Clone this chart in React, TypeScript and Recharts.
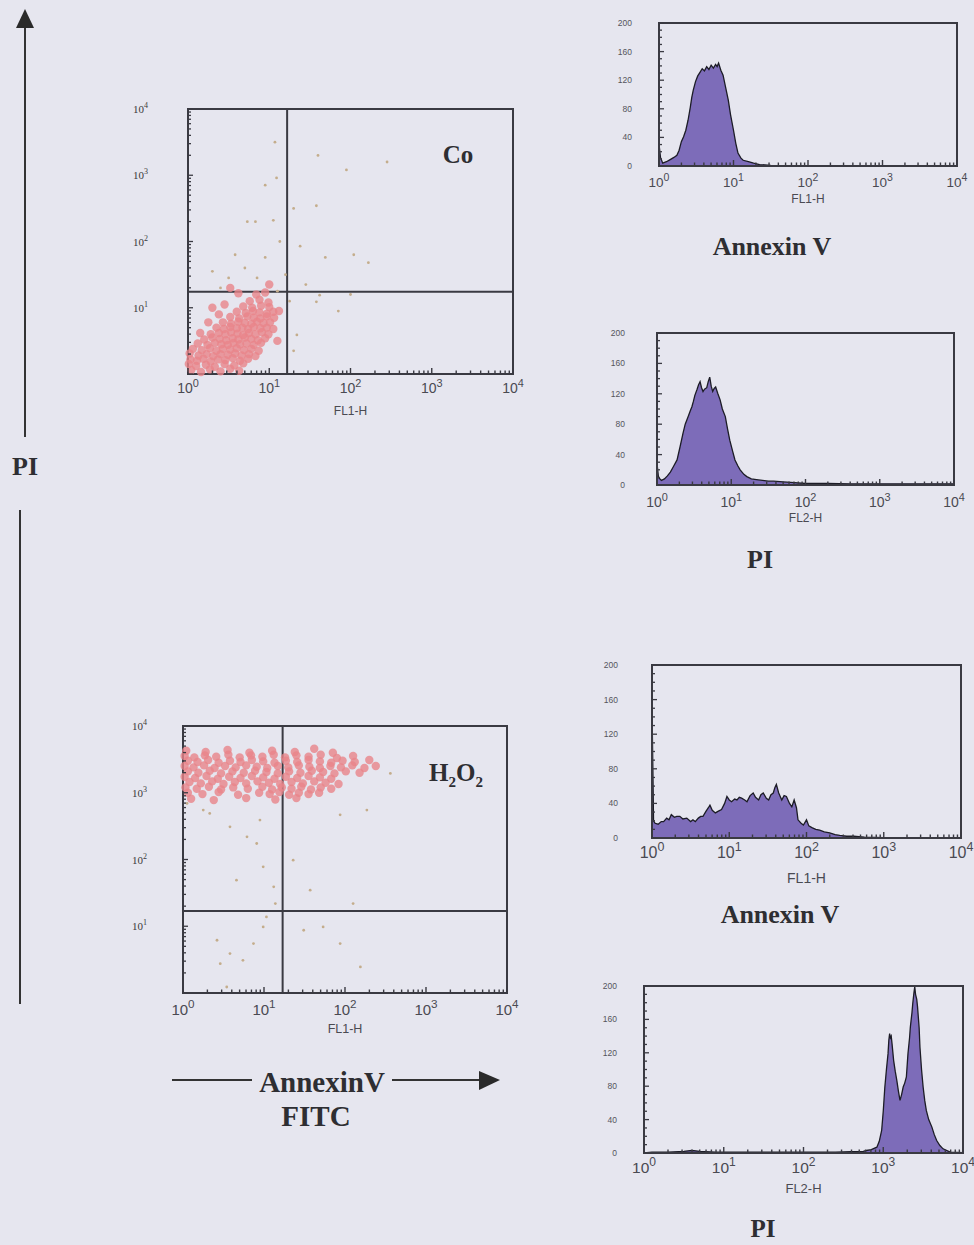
import React from "react";
import {
  AreaChart,
  Area,
  ScatterChart,
  Scatter,
  XAxis,
  YAxis,
  ReferenceLine,
  ReferenceArea,
} from "recharts";

// log axes: values are in decades (0 = 10^0 ... 4 = 10^4)
const decades = [0, 1, 2, 3, 4];
const decadeLabels = ["0", "1", "2", "3", "4"];
const minorSteps = [2, 3, 4, 5, 6, 7, 8, 9];
const logTicks = [0, 1, 2, 3]
  .flatMap((d) => [d, ...minorSteps.map((k) => d + Math.log10(k))])
  .concat(4);
const countTicks = [0, 10, 20, 30, 40, 50, 60, 70, 80, 90, 100, 110, 120, 130, 140, 150, 160, 170, 180, 190, 200];
const countLabels = [0, 40, 80, 120, 160, 200];

// histograms: [log10 fluorescence, events]
const annexinControl = [
  [0, 0], [0.005, 26], [0.02, 12], [0.05, 4], [0.1, 6], [0.15, 9], [0.2, 12], [0.24, 15],
  [0.27, 22], [0.3, 34], [0.33, 41], [0.36, 50], [0.39, 64], [0.42, 82], [0.44, 96],
  [0.46, 106], [0.49, 118], [0.52, 126], [0.55, 131], [0.58, 136], [0.61, 133], [0.64, 139],
  [0.67, 135], [0.7, 141], [0.73, 137], [0.76, 142], [0.78, 139], [0.8, 144], [0.83, 134],
  [0.86, 127], [0.89, 112], [0.93, 92], [0.96, 72], [1.0, 50], [1.03, 32], [1.06, 18],
  [1.1, 11], [1.13, 8], [1.2, 6], [1.27, 4], [1.35, 2], [1.5, 1], [2, 0.5], [3, 0.5], [4, 0.5],
];

const piControl = [
  [0, 0], [0.005, 24], [0.02, 10], [0.06, 6], [0.1, 8], [0.14, 12], [0.18, 17], [0.22, 24],
  [0.27, 33], [0.31, 50], [0.35, 68], [0.38, 80], [0.42, 90], [0.45, 98], [0.47, 103],
  [0.49, 110], [0.51, 118], [0.54, 126], [0.56, 132], [0.58, 136], [0.6, 128], [0.62, 123],
  [0.64, 126], [0.67, 128], [0.69, 136], [0.71, 142], [0.73, 130], [0.75, 123], [0.77, 127],
  [0.79, 129], [0.82, 120], [0.85, 112], [0.88, 100], [0.92, 90], [0.95, 74], [0.98, 59],
  [1.02, 44], [1.05, 33], [1.09, 25], [1.12, 20], [1.17, 14], [1.21, 11], [1.27, 8],
  [1.34, 7], [1.42, 6], [1.5, 5], [1.57, 5], [1.7, 4], [1.85, 3], [2.0, 2], [2.3, 2],
  [2.6, 1.5], [3.0, 1.5], [3.4, 1.5], [3.8, 1.5], [4, 1.5],
];

const annexinH2O2 = [
  [0, 0], [0.003, 131], [0.012, 75], [0.02, 20], [0.04, 17], [0.08, 16], [0.12, 19],
  [0.15, 19], [0.19, 23], [0.22, 21], [0.25, 27], [0.29, 24], [0.32, 25], [0.36, 25],
  [0.4, 22], [0.45, 23], [0.5, 19], [0.53, 21], [0.56, 19], [0.6, 23], [0.63, 25],
  [0.66, 25], [0.7, 31], [0.73, 35], [0.75, 38], [0.78, 32], [0.82, 29], [0.86, 31],
  [0.9, 33], [0.94, 40], [0.97, 48], [1.0, 44], [1.03, 42], [1.07, 45], [1.1, 44],
  [1.13, 47], [1.16, 46], [1.2, 44], [1.23, 42], [1.27, 49], [1.31, 52], [1.34, 47],
  [1.38, 44], [1.41, 50], [1.44, 52], [1.48, 46], [1.51, 44], [1.54, 50], [1.57, 52],
  [1.59, 58], [1.61, 62], [1.64, 52], [1.68, 44], [1.71, 49], [1.74, 48], [1.78, 40],
  [1.81, 36], [1.84, 44], [1.87, 35], [1.89, 21], [1.93, 17], [1.96, 15], [2.0, 21],
  [2.03, 14], [2.07, 12], [2.12, 10], [2.17, 9], [2.23, 7], [2.3, 6], [2.37, 4], [2.43, 3],
  [2.52, 2], [2.61, 2], [2.75, 1], [3.0, 0.5], [4, 0.5],
];

const piH2O2 = [
  [0, 0], [0.1, 1], [0.3, 1], [0.5, 2], [0.6, 3], [0.7, 2], [0.9, 1], [1.2, 1], [1.6, 1],
  [2.0, 1], [2.4, 1], [2.6, 1.5], [2.75, 2], [2.79, 3], [2.85, 4], [2.92, 7], [2.95, 14],
  [2.98, 27], [3.0, 50], [3.02, 79], [3.04, 100], [3.06, 119], [3.07, 135], [3.08, 143],
  [3.09, 138], [3.1, 140], [3.11, 131], [3.13, 111], [3.15, 98], [3.17, 87], [3.19, 74],
  [3.21, 63], [3.23, 70], [3.25, 79], [3.27, 84], [3.29, 91], [3.31, 119], [3.33, 138],
  [3.34, 151], [3.36, 168], [3.37, 179], [3.385, 192], [3.395, 199], [3.405, 190],
  [3.42, 184], [3.43, 175], [3.45, 150], [3.46, 127], [3.48, 100], [3.5, 79], [3.52, 63],
  [3.54, 51], [3.57, 40], [3.61, 31], [3.64, 22], [3.67, 15], [3.71, 9], [3.75, 5],
  [3.84, 1], [4, 0.5],
];

// dot plots: [log10 FL1 (Annexin V), log10 FL2 (PI)]
const controlCells = [
  [0.04, 0.06], [0.16, 0.03], [0.27, 0.07], [0.4, 0.04], [0.52, 0.08], [0.63, 0.05],
  [0.01, 0.15], [0.1, 0.12], [0.22, 0.14], [0.33, 0.11], [0.45, 0.15], [0.57, 0.13], [0.68, 0.16],
  [0.03, 0.22], [0.11, 0.2], [0.19, 0.23], [0.28, 0.19], [0.37, 0.22], [0.46, 0.21], [0.55, 0.24],
  [0.64, 0.2], [0.74, 0.23],
  [0.02, 0.31], [0.13, 0.28], [0.23, 0.3], [0.31, 0.27], [0.4, 0.3], [0.49, 0.29], [0.58, 0.31],
  [0.66, 0.28], [0.75, 0.3], [0.83, 0.27],
  [0.06, 0.38], [0.17, 0.36], [0.27, 0.39], [0.35, 0.35], [0.43, 0.38], [0.52, 0.37], [0.6, 0.39],
  [0.69, 0.36], [0.78, 0.38], [0.87, 0.35],
  [0.12, 0.46], [0.24, 0.44], [0.33, 0.47], [0.41, 0.45], [0.49, 0.44], [0.56, 0.47], [0.64, 0.45],
  [0.72, 0.46], [0.81, 0.44], [0.9, 0.47],
  [0.2, 0.52], [0.3, 0.55], [0.39, 0.53], [0.47, 0.51], [0.55, 0.54], [0.62, 0.52], [0.7, 0.55],
  [0.78, 0.53], [0.86, 0.51], [0.95, 0.54],
  [0.28, 0.6], [0.38, 0.62], [0.46, 0.6], [0.53, 0.63], [0.61, 0.61], [0.68, 0.59], [0.75, 0.62],
  [0.83, 0.6], [0.91, 0.63], [0.99, 0.6],
  [0.35, 0.7], [0.44, 0.68], [0.52, 0.71], [0.6, 0.69], [0.67, 0.7], [0.74, 0.68], [0.81, 0.71],
  [0.89, 0.69], [0.97, 0.7], [1.05, 0.68],
  [0.43, 0.78], [0.53, 0.76], [0.62, 0.79], [0.7, 0.77], [0.78, 0.76], [0.85, 0.79], [0.93, 0.77],
  [1.01, 0.78],
  [0.52, 0.86], [0.63, 0.84], [0.73, 0.87], [0.81, 0.85], [0.89, 0.84], [0.97, 0.87], [1.06, 0.85],
  [0.6, 0.94], [0.71, 0.92], [0.8, 0.95], [0.88, 0.93], [0.97, 0.91], [1.05, 0.94],
  [0.68, 1.02], [0.79, 1.0], [0.9, 1.03], [1.0, 1.01],
  [0.76, 1.1], [0.88, 1.12], [0.99, 1.08], [0.84, 1.2], [0.95, 1.23], [0.62, 1.22],
  [0.45, 1.05], [0.38, 0.9], [0.25, 0.78], [0.15, 0.62], [1.1, 0.5], [1.12, 0.95], [0.3, 1.0],
  [0.52, 1.3], [1.0, 1.35],
];

const controlSparse = [
  [1.07, 3.5], [1.6, 3.3], [1.95, 3.08], [2.45, 3.2], [0.95, 2.85], [1.09, 2.96], [1.3, 2.5],
  [1.58, 2.54], [0.73, 2.3], [0.83, 2.3], [1.05, 2.32], [0.58, 1.8], [0.95, 1.76], [1.13, 2.0],
  [1.38, 1.93], [1.69, 1.76], [2.04, 1.8], [2.22, 1.68], [1.62, 1.19], [1.34, 0.59], [1.58, 1.09],
  [0.5, 1.45], [0.7, 1.6], [1.2, 1.5], [0.4, 1.3], [1.45, 1.35], [1.3, 0.35], [1.85, 0.95],
  [1.1, 1.25], [0.85, 1.45], [1.25, 1.1], [2.0, 1.2], [0.3, 1.55],
];

const h2o2Cells = [
  [0.04, 3.63], [0.28, 3.61], [0.55, 3.64], [0.82, 3.6], [1.1, 3.63], [1.38, 3.61], [1.62, 3.66], [1.85, 3.6],
  [0.02, 3.55], [0.14, 3.53], [0.27, 3.56], [0.41, 3.54], [0.56, 3.57], [0.7, 3.53], [0.84, 3.56],
  [0.98, 3.54], [1.12, 3.57], [1.26, 3.53], [1.4, 3.56], [1.55, 3.54], [1.7, 3.57], [1.9, 3.52], [2.1, 3.55],
  [0.06, 3.48], [0.18, 3.46], [0.31, 3.49], [0.44, 3.45], [0.58, 3.48], [0.71, 3.46], [0.85, 3.49],
  [0.99, 3.47], [1.13, 3.45], [1.27, 3.48], [1.41, 3.46], [1.55, 3.49], [1.69, 3.47], [1.83, 3.45],
  [1.97, 3.48], [2.12, 3.46], [2.3, 3.49],
  [0.02, 3.4], [0.13, 3.38], [0.26, 3.41], [0.39, 3.37], [0.52, 3.4], [0.65, 3.38], [0.78, 3.41],
  [0.91, 3.39], [1.04, 3.37], [1.17, 3.4], [1.3, 3.38], [1.43, 3.41], [1.56, 3.39], [1.69, 3.37],
  [1.82, 3.4], [1.95, 3.38], [2.09, 3.41], [2.24, 3.37], [2.38, 3.4],
  [0.06, 3.32], [0.19, 3.3], [0.33, 3.33], [0.47, 3.29], [0.61, 3.32], [0.75, 3.3], [0.89, 3.33],
  [1.03, 3.31], [1.17, 3.29], [1.31, 3.32], [1.45, 3.3], [1.59, 3.33], [1.73, 3.31], [1.87, 3.29],
  [2.01, 3.32], [2.18, 3.3],
  [0.02, 3.24], [0.15, 3.22], [0.29, 3.25], [0.43, 3.21], [0.57, 3.24], [0.71, 3.22], [0.85, 3.25],
  [0.99, 3.23], [1.13, 3.21], [1.27, 3.24], [1.41, 3.22], [1.55, 3.25], [1.69, 3.23], [1.83, 3.21],
  [0.08, 3.16], [0.22, 3.14], [0.36, 3.17], [0.5, 3.13], [0.64, 3.16], [0.78, 3.14], [0.92, 3.17],
  [1.06, 3.15], [1.2, 3.13], [1.34, 3.16], [1.48, 3.14], [1.62, 3.17], [1.76, 3.15], [1.92, 3.13],
  [0.03, 3.08], [0.17, 3.06], [0.32, 3.09], [0.47, 3.05], [0.62, 3.08], [0.8, 3.06], [0.98, 3.09],
  [1.1, 3.05], [1.22, 3.08], [1.34, 3.06], [1.46, 3.09], [1.58, 3.05], [1.7, 3.08], [1.83, 3.06],
  [0.06, 3.0], [0.24, 2.98], [0.44, 3.01], [0.68, 2.97], [0.94, 3.0], [1.07, 2.98], [1.19, 3.01],
  [1.31, 2.97], [1.43, 3.0], [1.55, 2.98], [1.68, 3.0],
  [0.1, 2.91], [0.38, 2.89], [0.78, 2.92], [1.14, 2.9], [1.4, 2.92],
];

const h2o2Sparse = [
  [0.33, 2.69], [0.58, 2.49], [0.79, 2.34], [0.95, 2.59], [0.91, 2.24], [0.99, 1.89], [1.12, 1.59],
  [0.66, 1.69], [1.14, 1.34], [1.36, 1.99], [1.94, 2.67], [1.57, 1.54], [2.1, 1.34], [1.49, 0.94],
  [1.73, 0.99], [1.94, 0.74], [2.19, 0.39], [0.42, 0.79], [0.58, 0.59], [0.46, 0.44], [0.74, 0.49],
  [0.54, 0.09], [1.03, 1.14], [0.87, 0.74], [0.99, 0.99], [2.27, 2.74], [0.05, 2.84], [0.25, 2.74],
  [2.56, 3.29],
];

const ML = 80;
const MR = 24;
const MT = 14;
const MB = 56;
const ink = "#3a3a42";
const bg = "#e6e6ef";

const sansFont = "'Liberation Sans', Arial, sans-serif";
const serifFont = "'Liberation Serif', 'Times New Roman', serif";

const xTick = (p: any, fs: number, dy: number) => {
  const { x, y, payload } = p;
  const v = payload.value;
  const i = decades.indexOf(v);
  return (
    <g>
      <line x1={x} x2={x} y1={y} y2={y - (i >= 0 ? 6 : 3.5)} stroke={ink} strokeWidth={1.4} />
      {i >= 0 && (
        <text x={x} y={y + dy} textAnchor="middle" fontSize={fs} fill="#4a4a52" fontFamily={sansFont}>
          10
          <tspan dy={-fs * 0.45} fontSize={fs * 0.78}>
            {decadeLabels[i]}
          </tspan>
        </text>
      )}
    </g>
  );
};

const countTick = (p: any, gap: number) => {
  const { x, y, payload } = p;
  const v = payload.value;
  const labelled = countLabels.includes(v);
  return (
    <g>
      <line x1={x} x2={x + (labelled ? 5 : 3)} y1={y} y2={y} stroke={ink} strokeWidth={1.3} />
      {labelled && (
        <text x={x - gap} y={y + 3} textAnchor="end" fontSize={8.5} fill="#55555c" fontFamily={sansFont}>
          {v}
        </text>
      )}
    </g>
  );
};

const decadeYTick = (p: any, gap: number) => {
  const { x, y, payload } = p;
  const v = payload.value;
  const i = decades.indexOf(v);
  return (
    <g>
      <line x1={x} x2={x + (i >= 0 ? 5 : 3)} y1={y} y2={y} stroke={ink} strokeWidth={1.3} />
      {i > 0 && (
        <text x={x - gap} y={y + 4} textAnchor="end" fontSize={11} fill="#3a3a3a" fontFamily={serifFont}>
          10
          <tspan dy={-5} fontSize={8}>
            {decadeLabels[i]}
          </tspan>
        </text>
      )}
    </g>
  );
};

type Frame = {
  left: number;
  top: number;
  w: number;
  h: number;
  tickFs: number;
  labelDy: number;
  nameBase: number;
  nameFs: number;
  yGap: number;
  xName: string;
};

const Histogram = ({ f, data }: { f: Frame; data: number[][] }) => {
  const rows = data.map(([x, n]) => ({ x, n }));
  return (
    <div style={{ position: "absolute", left: f.left - ML, top: f.top - MT }}>
      <AreaChart
        width={f.w + ML + MR}
        height={f.h + MT + MB}
        data={rows}
        margin={{ top: MT, right: MR, bottom: 0, left: 0 }}
      >
        <XAxis
          type="number"
          dataKey="x"
          domain={[0, 4]}
          ticks={logTicks}
          interval={0}
          height={MB}
          tickSize={0}
          tickMargin={0}
          axisLine={false}
          tickLine={false}
          tick={(p: any) => xTick(p, f.tickFs, f.labelDy)}
          label={{
            value: f.xName,
            position: "insideBottom",
            offset: MB - f.nameBase,
            fontSize: f.nameFs,
            fill: "#4a4a52",
            fontFamily: sansFont,
          }}
        />
        <YAxis
          type="number"
          domain={[0, 200]}
          ticks={countTicks}
          interval={0}
          width={ML}
          tickSize={0}
          tickMargin={0}
          axisLine={false}
          tickLine={false}
          tick={(p: any) => countTick(p, f.yGap)}
        />
        <Area
          type="linear"
          dataKey="n"
          fill="#7d6cb9"
          fillOpacity={1}
          stroke="#1c1c26"
          strokeWidth={1.3}
          dot={false}
          activeDot={false}
          isAnimationActive={false}
        />
        <ReferenceArea x1={0} x2={4} y1={0} y2={200} fill="none" fillOpacity={0} stroke={ink} strokeWidth={2} />
      </AreaChart>
    </div>
  );
};

const dot = (color: string, r: number, op: number) => (p: any) =>
  <circle cx={p.cx} cy={p.cy} r={r} fill={color} fillOpacity={op} />;

const DotPlot = ({
  f,
  cells,
  sparse,
  qx,
  qy,
}: {
  f: Frame;
  cells: number[][];
  sparse: number[][];
  qx: number;
  qy: number;
}) => {
  const dense = cells.map(([x, y]) => ({ x, y }));
  const loose = sparse.map(([x, y]) => ({ x, y }));
  return (
    <div style={{ position: "absolute", left: f.left - ML, top: f.top - MT }}>
      <ScatterChart
        width={f.w + ML + MR}
        height={f.h + MT + MB}
        margin={{ top: MT, right: MR, bottom: 0, left: 0 }}
      >
        <XAxis
          type="number"
          dataKey="x"
          domain={[0, 4]}
          ticks={logTicks}
          interval={0}
          height={MB}
          tickSize={0}
          tickMargin={0}
          axisLine={false}
          tickLine={false}
          tick={(p: any) => xTick(p, f.tickFs, f.labelDy)}
          label={{
            value: f.xName,
            position: "insideBottom",
            offset: MB - f.nameBase,
            fontSize: f.nameFs,
            fill: "#4a4a52",
            fontFamily: sansFont,
          }}
        />
        <YAxis
          type="number"
          dataKey="y"
          domain={[0, 4]}
          ticks={logTicks}
          interval={0}
          width={ML}
          tickSize={0}
          tickMargin={0}
          axisLine={false}
          tickLine={false}
          tick={(p: any) => decadeYTick(p, f.yGap)}
        />
        <Scatter data={loose} shape={dot("#c4ad8c", 1.4, 1)} isAnimationActive={false} />
        <Scatter data={dense} shape={dot("#e8848a", 4.2, 0.8)} isAnimationActive={false} />
        <ReferenceLine x={qx} stroke={ink} strokeWidth={2} />
        <ReferenceLine y={qy} stroke={ink} strokeWidth={2} />
        <ReferenceArea x1={0} x2={4} y1={0} y2={4} fill="none" fillOpacity={0} stroke={ink} strokeWidth={2} />
      </ScatterChart>
    </div>
  );
};

const Caption = ({ x, y, size, children }: { x: number; y: number; size: number; children: React.ReactNode }) => (
  <div
    style={{
      position: "absolute",
      left: x,
      top: y,
      transform: "translate(-50%, -50%)",
      fontFamily: serifFont,
      fontWeight: "bold",
      fontSize: size,
      lineHeight: 1,
      color: "#2e2e32",
      whiteSpace: "nowrap",
    }}
  >
    {children}
  </div>
);

export default function App() {
  return (
    <div
      style={{
        position: "absolute",
        left: 0,
        top: 0,
        width: 974,
        height: 1245,
        background: bg,
        overflow: "hidden",
      }}
    >
      <DotPlot
        f={{ left: 188, top: 109, w: 325, h: 265, tickFs: 14, labelDy: 19, nameBase: 41, nameFs: 12, yGap: 40, xName: "FL1-H" }}
        cells={controlCells}
        sparse={controlSparse}
        qx={1.22}
        qy={1.24}
      />
      <DotPlot
        f={{ left: 183, top: 726, w: 324, h: 267, tickFs: 15, labelDy: 22, nameBase: 40, nameFs: 12.5, yGap: 36, xName: "FL1-H" }}
        cells={h2o2Cells}
        sparse={h2o2Sparse}
        qx={1.23}
        qy={1.23}
      />
      <Histogram
        f={{ left: 659, top: 23, w: 298, h: 143, tickFs: 13.5, labelDy: 21, nameBase: 37, nameFs: 12, yGap: 27, xName: "FL1-H" }}
        data={annexinControl}
      />
      <Histogram
        f={{ left: 657, top: 333, w: 297, h: 152, tickFs: 14, labelDy: 22, nameBase: 37, nameFs: 12, yGap: 32, xName: "FL2-H" }}
        data={piControl}
      />
      <Histogram
        f={{ left: 652, top: 665, w: 309, h: 173, tickFs: 16, labelDy: 20, nameBase: 45, nameFs: 14, yGap: 34, xName: "FL1-H" }}
        data={annexinH2O2}
      />
      <Histogram
        f={{ left: 644, top: 986, w: 319, h: 167, tickFs: 15.5, labelDy: 20, nameBase: 40, nameFs: 13, yGap: 27, xName: "FL2-H" }}
        data={piH2O2}
      />

      <svg width={974} height={1245} style={{ position: "absolute", left: 0, top: 0, pointerEvents: "none" }}>
        <line x1={25} y1={24} x2={25} y2={437} stroke="#333" strokeWidth={2} />
        <polygon points="25,9 16,28 34,28" fill="#2a2a2a" />
        <line x1={20} y1={510} x2={20} y2={1004} stroke="#333" strokeWidth={2} />
        <line x1={172} y1={1080} x2={252} y2={1080} stroke="#333" strokeWidth={2} />
        <line x1={392} y1={1080} x2={484} y2={1080} stroke="#333" strokeWidth={2} />
        <polygon points="479,1071 500,1080 479,1090" fill="#2a2a2a" />
      </svg>

      <Caption x={25} y={467} size={26}>PI</Caption>
      <Caption x={458} y={154} size={25}>Co</Caption>
      <Caption x={456} y={775} size={25}>
        H<sub style={{ fontSize: "0.6em" }}>2</sub>O<sub style={{ fontSize: "0.6em" }}>2</sub>
      </Caption>
      <Caption x={772} y={247} size={26}>Annexin V</Caption>
      <Caption x={760} y={560} size={26}>PI</Caption>
      <Caption x={780} y={915} size={26}>Annexin V</Caption>
      <Caption x={763} y={1228} size={25}>PI</Caption>
      <Caption x={322} y={1082} size={29}>AnnexinV</Caption>
      <Caption x={316} y={1116} size={29}>FITC</Caption>
    </div>
  );
}
